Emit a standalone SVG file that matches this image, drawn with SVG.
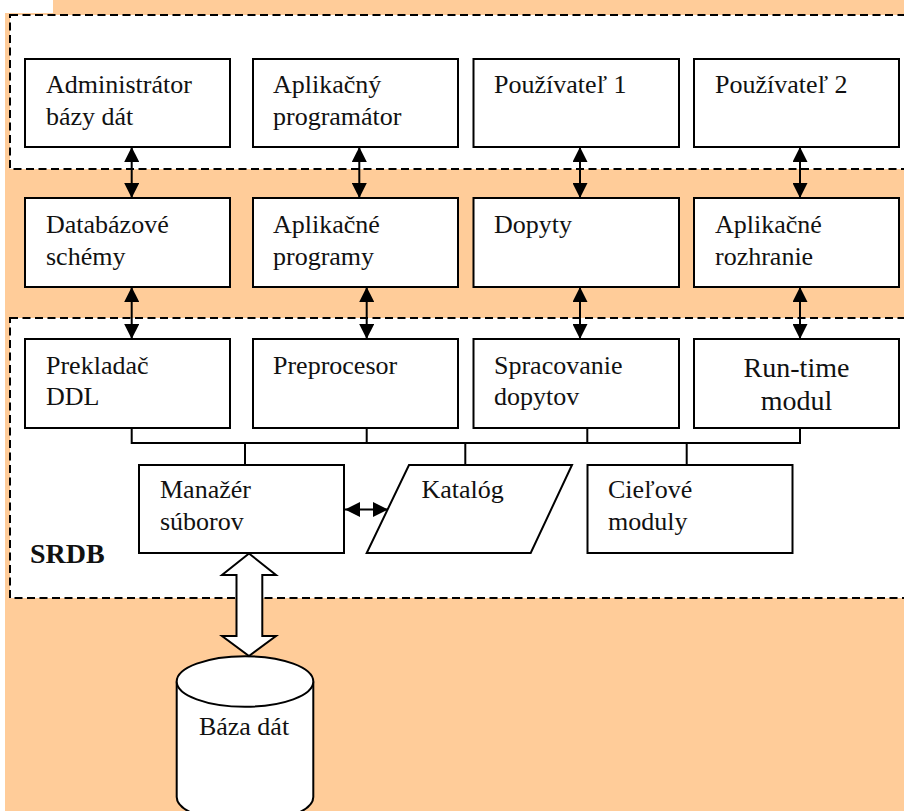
<svg xmlns="http://www.w3.org/2000/svg" width="904" height="811" viewBox="0 0 904 811">
  <style>
    .box { fill: #ffffff; stroke: #000000; stroke-width: 2; }
    .panel { fill: #ffffff; stroke: #000000; stroke-width: 2; stroke-dasharray: 8 4.5; }
    .lbl { font-size: 26px; fill: #111111; }
    .big { font-size: 28px; }
    .srdb { font-size: 28px; font-weight: bold; fill: #111111; }
    .link { stroke: #000000; stroke-width: 2; fill: none; }
    .dbl { marker-start: url(#head); marker-end: url(#head); }
  </style>
  <defs>
    <marker id="head" viewBox="0 0 15 15" refX="15" refY="7.5" markerWidth="15" markerHeight="15" markerUnits="userSpaceOnUse" orient="auto-start-reverse">
      <path d="M0,0 L15,7.5 L0,15 z" fill="#000000"/>
    </marker>
  </defs>

  <!-- background -->
  <rect width="904" height="811" fill="#ffffff"/>
  <path d="M5,13 H53 V0 H904 V811 H5 z" fill="#ffcc99"/>

  <g font-family="Liberation Serif, DejaVu Serif, Times New Roman, Times, serif">
  <!-- dashed panels -->
  <g id="users-layer">
    <rect class="panel" x="10" y="15" width="910" height="154"/>
  </g>
  <g id="srdb-layer">
    <rect class="panel" x="10" y="318" width="910" height="280"/>
    <text class="srdb" x="30" y="563">SRDB</text>
  </g>

  <!-- row 1 -->
  <g id="admin">
    <rect class="box" x="25" y="59" width="205" height="88"/>
    <text class="lbl" x="46" y="93">Administrátor</text>
    <text class="lbl" x="46" y="125">bázy dát</text>
  </g>
  <g id="app-programmer">
    <rect class="box" x="253" y="59" width="205" height="88"/>
    <text class="lbl" x="273" y="93">Aplikačný</text>
    <text class="lbl" x="273" y="125">programátor</text>
  </g>
  <g id="user1">
    <rect class="box" x="473.5" y="59" width="205.5" height="88"/>
    <text class="lbl" x="494" y="93">Používateľ 1</text>
  </g>
  <g id="user2">
    <rect class="box" x="694" y="59" width="205" height="88"/>
    <text class="lbl" x="715" y="93">Používateľ 2</text>
  </g>

  <!-- row 2 -->
  <g id="schemas">
    <rect class="box" x="25" y="198" width="205" height="89"/>
    <text class="lbl" x="46" y="233">Databázové</text>
    <text class="lbl" x="46" y="265">schémy</text>
  </g>
  <g id="app-programs">
    <rect class="box" x="253" y="198" width="205" height="89"/>
    <text class="lbl" x="273" y="233">Aplikačné</text>
    <text class="lbl" x="273" y="265">programy</text>
  </g>
  <g id="queries">
    <rect class="box" x="473.5" y="198" width="205.5" height="89"/>
    <text class="lbl" x="494" y="233">Dopyty</text>
  </g>
  <g id="app-interface">
    <rect class="box" x="694" y="198" width="205" height="89"/>
    <text class="lbl" x="715" y="233">Aplikačné</text>
    <text class="lbl" x="715" y="265">rozhranie</text>
  </g>

  <!-- row 3 -->
  <g id="ddl-compiler">
    <rect class="box" x="25" y="339" width="205" height="89"/>
    <text class="lbl" x="46" y="374">Prekladač</text>
    <text class="lbl" x="46" y="405">DDL</text>
  </g>
  <g id="preprocessor">
    <rect class="box" x="253" y="339" width="205" height="89"/>
    <text class="lbl" x="273" y="374">Preprocesor</text>
  </g>
  <g id="query-processing">
    <rect class="box" x="473.5" y="339" width="205.5" height="89"/>
    <text class="lbl" x="494" y="374">Spracovanie</text>
    <text class="lbl" x="494" y="405">dopytov</text>
  </g>
  <g id="runtime">
    <rect class="box" x="694" y="339" width="205" height="89"/>
    <text class="lbl big" x="796.5" y="377" text-anchor="middle">Run-time</text>
    <text class="lbl big" x="796.5" y="410" text-anchor="middle">modul</text>
  </g>

  <!-- row 4 -->
  <g id="file-manager">
    <rect class="box" x="139" y="465" width="205" height="88"/>
    <text class="lbl" x="160" y="498">Manažér</text>
    <text class="lbl" x="160" y="530">súborov</text>
  </g>
  <g id="catalog">
    <path class="box" d="M409,465 H572 L530.7,553 H366.7 z"/>
    <text class="lbl" x="421.5" y="498">Katalóg</text>
  </g>
  <g id="target-modules">
    <rect class="box" x="587.5" y="465" width="205" height="88"/>
    <text class="lbl" x="608" y="498">Cieľové</text>
    <text class="lbl" x="608" y="530">moduly</text>
  </g>

  <!-- database -->
  <g id="database">
    <path class="box" d="M176.7,681.5 V797 A68.3,25.3 0 0 0 313.3,797 V681.5"/>
    <ellipse class="box" cx="245" cy="681.5" rx="68.3" ry="25.3"/>
    <text class="lbl" x="244" y="735" text-anchor="middle">Báza dát</text>
  </g>
  </g>

  <!-- connectors -->
  <g id="connectors">
    <line class="link dbl" x1="131.7" y1="147" x2="131.7" y2="198"/>
    <line class="link dbl" x1="359.3" y1="147" x2="359.3" y2="198"/>
    <line class="link dbl" x1="580" y1="147" x2="580" y2="198"/>
    <line class="link dbl" x1="800" y1="147" x2="800" y2="198"/>

    <line class="link dbl" x1="131.7" y1="287" x2="131.7" y2="339"/>
    <line class="link dbl" x1="366.7" y1="287" x2="366.7" y2="339"/>
    <line class="link dbl" x1="580" y1="287" x2="580" y2="339"/>
    <line class="link dbl" x1="800" y1="287" x2="800" y2="339"/>

    <!-- bus between processing modules and storage layer -->
    <path class="link" d="M131.7,428 V443 H800 V428 M366.7,428 V443 M587.3,428 V443 M245,443 V465 M465.3,443 V465 M686.7,443 V465"/>

    <line class="link dbl" x1="345" y1="509.5" x2="388" y2="509.5"/>

    <!-- wide data path to the database -->
    <path class="box" d="M249,553.5 L276,575 H262.3 V636 H276 L249,656 L222,636 H236.5 V575 H222 z"/>
  </g>
</svg>
